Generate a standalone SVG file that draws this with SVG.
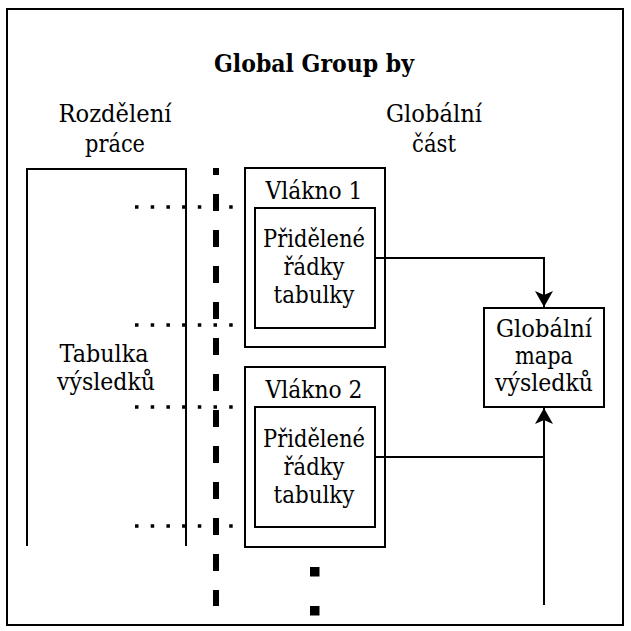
<svg xmlns="http://www.w3.org/2000/svg" width="631" height="631" viewBox="0 0 631 631">
<style>
.t{font-family:'DejaVu Serif','Liberation Serif',serif;font-size:24px;fill:#000;text-anchor:middle}
.title{font-weight:bold}
.box{fill:#fff;stroke:#000;stroke-width:2}
.line{fill:none;stroke:#000;stroke-width:2}
.dot{fill:none;stroke:#000;stroke-width:3.5;stroke-dasharray:3.5 12.2}
</style>
<defs>
<marker id="ah" viewBox="0 0 16 18" refX="16" refY="9" markerWidth="16" markerHeight="18" markerUnits="userSpaceOnUse" orient="auto">
<path d="M0,0 L16,9 L0,18 L4,9 Z" fill="#000"/>
</marker>
</defs>
<rect x="7" y="9" width="616" height="616" fill="#fff" stroke="#000" stroke-width="2"/>
<text class="t title" x="314" y="72" textLength="200" lengthAdjust="spacingAndGlyphs">Global Group by</text>
<g id="work-split">
<text class="t" x="115" y="122" textLength="113" lengthAdjust="spacingAndGlyphs">Rozdělení</text>
<text class="t" x="115" y="152" textLength="60" lengthAdjust="spacingAndGlyphs">práce</text>
</g>
<g id="global-part">
<text class="t" x="434" y="122" textLength="96" lengthAdjust="spacingAndGlyphs">Globální</text>
<text class="t" x="434" y="152" textLength="44" lengthAdjust="spacingAndGlyphs">část</text>
</g>
<g id="result-table">
<path class="line" d="M27,546 V169 H186 V546"/>
<text class="t" x="104" y="362" textLength="89" lengthAdjust="spacingAndGlyphs">Tabulka</text>
<text class="t" x="106" y="390" textLength="98" lengthAdjust="spacingAndGlyphs">výsledků</text>
</g>
<g id="thread1">
<rect class="box" x="245" y="168" width="140" height="179"/>
<text class="t" x="314" y="199" textLength="97" lengthAdjust="spacingAndGlyphs">Vlákno 1</text>
<rect class="box" x="255" y="208" width="120" height="120"/>
<text class="t" x="314" y="247" textLength="102" lengthAdjust="spacingAndGlyphs">Přidělené</text>
<text class="t" x="314" y="275" textLength="61" lengthAdjust="spacingAndGlyphs">řádky</text>
<text class="t" x="314" y="303" textLength="81" lengthAdjust="spacingAndGlyphs">tabulky</text>
</g>
<g id="thread2">
<rect class="box" x="245" y="367" width="140" height="180"/>
<text class="t" x="314" y="398" textLength="97" lengthAdjust="spacingAndGlyphs">Vlákno 2</text>
<rect class="box" x="255" y="407" width="120" height="120"/>
<text class="t" x="314" y="447" textLength="102" lengthAdjust="spacingAndGlyphs">Přidělené</text>
<text class="t" x="314" y="475" textLength="61" lengthAdjust="spacingAndGlyphs">řádky</text>
<text class="t" x="314" y="503" textLength="81" lengthAdjust="spacingAndGlyphs">tabulky</text>
</g>
<g id="global-map">
<rect class="box" x="484" y="308" width="120" height="99"/>
<text class="t" x="544" y="337" textLength="96" lengthAdjust="spacingAndGlyphs">Globální</text>
<text class="t" x="544" y="364" textLength="58" lengthAdjust="spacingAndGlyphs">mapa</text>
<text class="t" x="544" y="391" textLength="98" lengthAdjust="spacingAndGlyphs">výsledků</text>
</g>
<g id="connectors">
<path class="dot" d="M135,207 H236"/>
<path class="dot" d="M135,325 H236"/>
<path class="dot" d="M135,407 H236"/>
<path class="dot" d="M135,526 H236"/>
<path d="M216,168 V606" fill="none" stroke="#000" stroke-width="6" stroke-dasharray="17 19" stroke-dashoffset="10"/>
<rect x="310" y="567" width="9.5" height="9.5" fill="#000"/>
<rect x="310" y="606" width="9.5" height="9.5" fill="#000"/>
<path class="line" d="M375,258 H544 V307" marker-end="url(#ah)"/>
<path class="line" d="M375,457 H544"/>
<path class="line" d="M544,605 V408" marker-end="url(#ah)"/>
</g>
</svg>
